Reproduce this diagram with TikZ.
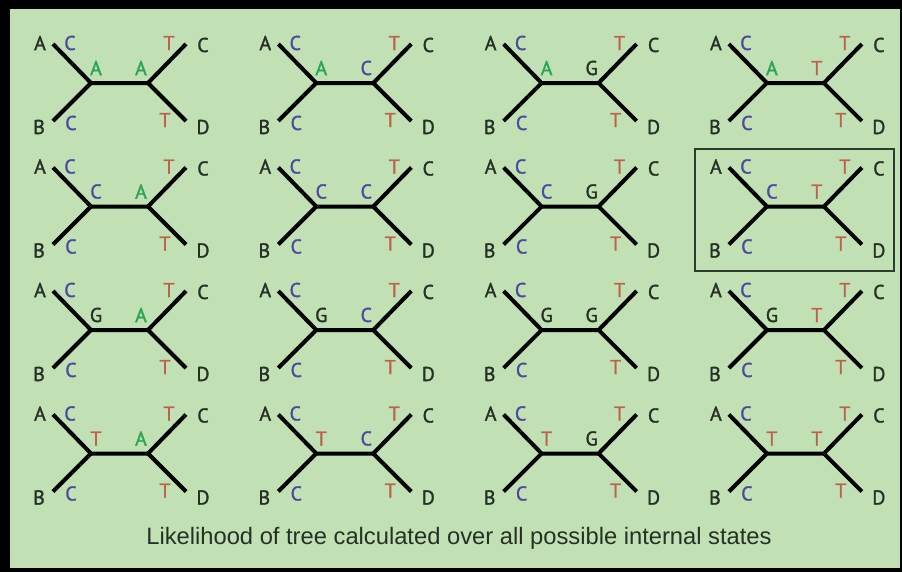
\documentclass[tikz,border=0pt]{standalone}
\usepackage{fontspec}
\newfontfamily\treefont[FakeBold=1.5]{PT Sans}
\newfontfamily\capfont{Liberation Sans}

\definecolor{bggreen}{RGB}{193,225,180}
\definecolor{leafdark}{RGB}{38,48,38}
\definecolor{ntblue}{RGB}{78,72,160}
\definecolor{ntgreen}{RGB}{40,165,85}
\definecolor{ntred}{RGB}{188,98,76}
\definecolor{boxdark}{RGB}{45,60,45}

\newcommand\ntA{\textcolor{ntgreen}{A}}
\newcommand\ntC{\textcolor{ntblue}{C}}
\newcommand\ntG{\textcolor{leafdark}{G}}
\newcommand\ntT{\textcolor{ntred}{T}}
\newcommand\nt[1]{\csname nt#1\endcsname}

\begin{document}
\begin{tikzpicture}[x=0.75pt, y=-0.75pt,
  branch/.style={line width=3pt, black},
  leaf/.style={inner sep=0pt, text=leafdark, font=\treefont\fontsize{15}{18}\selectfont},
  state/.style={inner sep=0pt, font=\treefont\fontsize{15}{18}\selectfont},
  caption/.style={inner sep=0pt, text=leafdark, font=\capfont\fontsize{17.8}{21}\selectfont},
  chosen/.style={draw=boxdark, line width=1.5pt}]

\def\colgap{225.3}
\def\rowgap{123.5}
\def\inner{57}

\useasboundingbox (0,0) rectangle (902,572);
\fill[black] (0,0) rectangle (902,572);
\fill[bggreen] (10,9) rectangle (900,568);

\foreach \lt [count=\r from 0] in {A,C,G,T}{
  \foreach \rt [count=\c from 0] in {A,C,G,T}{
    \coordinate (L\r\c) at (91+\c*\colgap, 83+\r*\rowgap);
    \coordinate (R\r\c) at ([shift={(\inner,0)}]L\r\c);
    \coordinate (a\r\c) at ([shift={(-38,-39)}]L\r\c);
    \coordinate (b\r\c) at ([shift={(-38,38)}]L\r\c);
    \coordinate (c\r\c) at ([shift={(38,-39)}]R\r\c);
    \coordinate (d\r\c) at ([shift={(38,38)}]R\r\c);

    \draw[branch] (a\r\c) -- (L\r\c) -- (R\r\c) -- (c\r\c);
    \draw[branch] (b\r\c) -- (L\r\c);
    \draw[branch] (R\r\c) -- (d\r\c);

    \node[leaf] (na\r\c) at ([shift={(-51,-40)}]L\r\c) {A};
    \node[leaf] (nb\r\c) at ([shift={(-52,44)}]L\r\c) {B};
    \node[leaf] (nc\r\c) at ([shift={(55,-38)}]R\r\c) {C};
    \node[leaf] (nd\r\c) at ([shift={(55,44)}]R\r\c) {D};

    \node[state] (sa\r\c) at ([shift={(-21,-40)}]L\r\c) {\nt{C}};
    \node[state] (sb\r\c) at ([shift={(-20,40)}]L\r\c) {\nt{C}};
    \node[state] (sc\r\c) at ([shift={(21,-40)}]R\r\c) {\nt{T}};
    \node[state] (sd\r\c) at ([shift={(17,37)}]R\r\c) {\nt{T}};

    \node[state] (sl\r\c) at ([shift={(5,-15)}]L\r\c) {\nt{\lt}};
    \node[state] (sr\r\c) at ([shift={(-7,-15)}]R\r\c) {\nt{\rt}};
  }
}

\draw[chosen] ([shift={(-72,-58)}]L13) rectangle ([shift={(127,64)}]L13);

\node[caption] (cap) at (459,538) {Likelihood of tree calculated over all possible internal states};

\end{tikzpicture}
\end{document}
